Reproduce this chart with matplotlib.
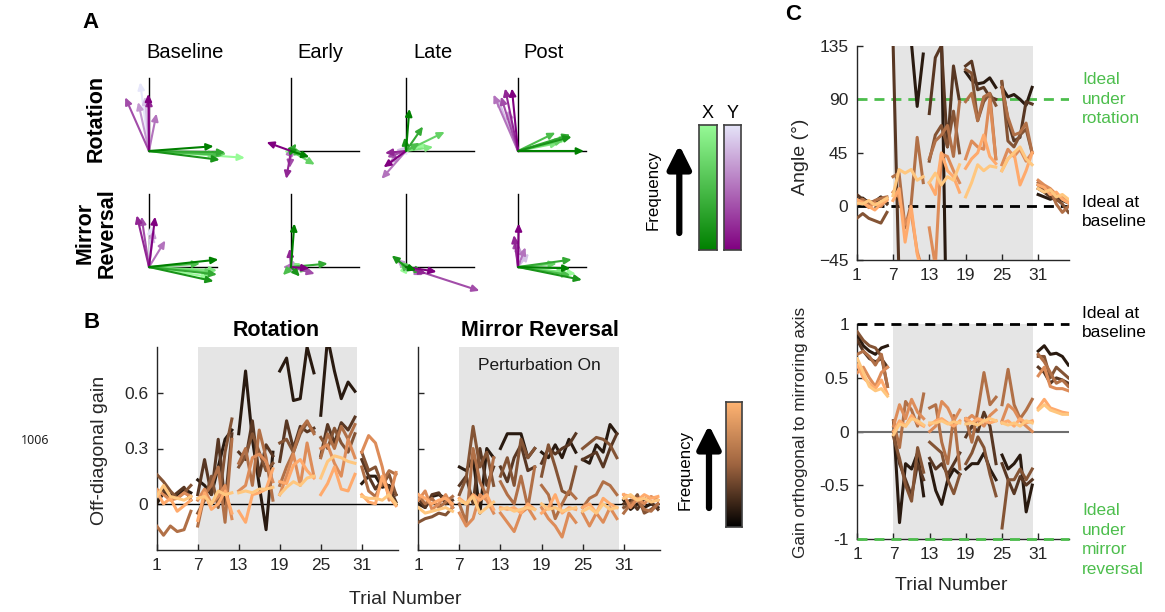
import numpy as np
import matplotlib
matplotlib.use('Agg')
import matplotlib.pyplot as plt
from matplotlib.colors import LinearSegmentedColormap

plt.rcParams['font.family'] = ['Liberation Sans', 'DejaVu Sans']

W, H = 1165, 612
trials = np.arange(1, 37)
xticks = [1, 7, 13, 19, 25, 31]
freq_levels = [0.13, 0.28, 0.42, 0.56, 0.70, 0.85, 1.0]
col_names = ['Baseline', 'Early', 'Late', 'Post']
row_names = ['Rotation', 'Mirror\nReversal']

# ---------------- Panel A: arrow vectors (dark/low freq -> light/high freq) ----------------
A_rot_base_X = [(0.95, 0.07), (1.04, -0.13), (1.12, -0.02), (1.08, -0.06), (1.14, -0.04), (1.0, -0.05), (1.41, -0.10)]
A_rot_base_Y = [(-0.01, 0.84), (0.0, 0.78), (-0.35, 0.79), (0.11, 0.55), (-0.16, 0.72), (-0.06, 0.80), (-0.13, 1.01)]
A_rot_early_X = [(0.27, -0.09), (0.10, 0.02), (0.08, 0.11), (0.18, -0.04), (0.35, -0.20), (0.12, -0.06), (0.05, 0.04)]
A_rot_early_Y = [(-0.36, 0.13), (-0.07, -0.41), (-0.02, -0.25), (0.02, 0.05), (-0.04, 0.06), (-0.06, 0.03), (-0.03, 0.07)]
A_rot_late_X = [(0.05, 0.62), (-0.02, 0.20), (0.25, 0.36), (0.20, 0.12), (0.57, 0.28), (0.40, 0.06), (0.30, 0.10)]
A_rot_late_Y = [(-0.33, -0.24), (-0.31, -0.03), (-0.28, -0.09), (-0.36, -0.41), (-0.25, -0.18), (-0.15, 0.02), (-0.10, 0.03)]
A_rot_post_X = [(0.97, 0.0), (0.79, 0.21), (0.77, 0.24), (0.55, 0.27), (0.67, 0.16), (0.60, 0.12), (0.74, 0.20)]
A_rot_post_Y = [(-0.09, 0.92), (-0.19, 0.92), (-0.25, 0.80), (-0.36, 0.83), (-0.15, 0.60), (-0.30, 0.78), (-0.10, 0.45)]
A_mir_base_X = [(1.02, 0.11), (0.95, -0.21), (1.00, -0.11), (0.75, 0.05), (0.95, -0.08), (1.0, -0.05), (0.90, -0.15)]
A_mir_base_Y = [(0.09, 0.74), (-0.18, 0.76), (-0.11, 0.74), (0.24, 0.39), (0.07, 0.55), (0.05, 0.49), (0.03, 0.60)]
A_mir_early_X = [(0.05, 0.64), (0.13, -0.14), (0.54, 0.05), (-0.12, -0.12), (0.27, -0.05), (0.15, 0.05), (-0.05, -0.05)]
A_mir_early_Y = [(0.27, -0.02), (-0.02, 0.27), (0.35, -0.10), (-0.12, 0.0), (0.05, 0.10), (0.10, -0.05), (-0.05, 0.05)]
A_mir_late_X = [(0.15, -0.05), (-0.21, 0.17), (0.25, -0.07), (0.08, 0.02), (-0.10, 0.08), (0.05, -0.03), (0.02, 0.04)]
A_mir_late_Y = [(0.45, -0.07), (0.30, -0.10), (1.08, -0.35), (0.25, -0.12), (-0.14, 0.12), (-0.08, 0.06), (-0.05, 0.05)]
A_mir_post_X = [(0.77, -0.02), (0.94, -0.19), (0.79, 0.11), (0.77, -0.12), (0.57, 0.05), (0.70, -0.08), (0.85, -0.10)]
A_mir_post_Y = [(0.01, 0.64), (-0.06, 0.47), (-0.04, 0.40), (0.11, 0.29), (0.0, 0.35), (0.16, 0.20), (0.05, 0.25)]

# ---------------- Panel B: off-diagonal gain (7 frequencies x 36 trials) ----------------
B_rot = [
    [0.0, 0.06, 0.05, 0.04, 0.08, 0.06, 0.13, 0.10, 0.05, 0.20, 0.35, 0.40, 0.38, 0.72, 0.35, 0.10, -0.14, 0.28,
     0.72, 0.79, 0.56, 0.57, 0.85, 0.71, 0.48, 0.90, 0.72, 0.57, 0.66, 0.61, 0.11, 0.15, 0.15, 0.09, 0.10, 0.05],
    [0.05, 0.08, 0.03, 0.06, 0.09, 0.02, 0.05, 0.24, 0.05, 0.35, 0.0, 0.38, 0.28, 0.24, 0.45, 0.15, 0.32, 0.26,
     0.23, 0.45, 0.30, 0.42, 0.39, 0.41, 0.26, 0.43, 0.33, 0.44, 0.40, 0.47, 0.24, 0.15, 0.08, 0.13, 0.09, 0.01],
    [0.16, 0.12, 0.07, 0.03, 0.06, 0.10, -0.05, 0.02, 0.15, -0.02, 0.28, 0.46, 0.20, 0.26, 0.38, 0.28, 0.18, 0.22,
     0.33, 0.35, 0.28, 0.38, 0.44, 0.39, 0.36, 0.30, 0.41, 0.33, 0.28, 0.38, 0.28, 0.18, 0.20, 0.10, 0.16, 0.05],
    [-0.12, -0.17, -0.12, -0.15, -0.14, -0.04, -0.12, 0.05, 0.10, 0.20, -0.10, 0.35, 0.22, 0.30, 0.10, 0.40, 0.25, 0.02,
     0.10, 0.20, 0.28, 0.40, 0.45, 0.38, 0.25, 0.38, 0.30, 0.42, 0.35, 0.43, 0.20, 0.07, 0.04, 0.12, 0.18, 0.16],
    [0.08, 0.05, 0.02, 0.03, 0.06, 0.04, 0.02, 0.08, 0.00, 0.04, 0.10, -0.08, 0.07, 0.10, 0.25, 0.27, 0.23, 0.12,
     0.05, 0.15, 0.27, 0.10, 0.33, 0.15, 0.30, 0.32, 0.22, 0.15, 0.35, 0.25, 0.28, 0.37, 0.33, 0.20, 0.02, 0.17],
    [0.07, 0.0, 0.03, -0.04, -0.01, 0.02, -0.09, 0.06, -0.03, 0.0, 0.07, -0.05, -0.04, -0.10, 0.05, 0.06, 0.08, 0.19,
     0.12, 0.11, 0.21, 0.24, 0.18, 0.14, 0.05, 0.11, 0.20, 0.08, 0.07, 0.16, 0.05, 0.01, 0.00, 0.15, 0.04, -0.01],
    [0.04, 0.10, 0.04, 0.03, 0.02, 0.04, 0.03, 0.04, 0.0, 0.07, 0.05, 0.06, 0.06, 0.07, 0.06, 0.08, 0.08, 0.09,
     0.05, 0.09, 0.12, 0.10, 0.14, 0.15, 0.14, 0.23, 0.26, 0.25, 0.23, 0.22, 0.04, 0.03, 0.03, 0.02, 0.05, 0.00],
]
B_mir = [
    [0.0, -0.02, 0.04, 0.05, 0.03, 0.0, 0.20, 0.18, 0.25, -0.05, 0.30, 0.25, 0.30, 0.38, 0.38, 0.38, 0.25, 0.30,
     0.28, 0.25, 0.32, 0.25, 0.35, 0.28, 0.24, 0.22, 0.32, 0.28, 0.43, 0.38, 0.02, -0.03, 0.0, -0.02, 0.0, -0.02],
    [0.03, -0.02, 0.05, 0.06, 0.0, 0.02, 0.10, 0.15, 0.0, 0.30, 0.10, 0.20, 0.20, 0.12, 0.25, 0.32, 0.18, 0.20,
     0.22, 0.30, 0.27, 0.30, 0.32, 0.38, 0.24, 0.26, 0.28, 0.20, 0.30, 0.38, 0.0, 0.02, -0.03, 0.03, 0.01, -0.03],
    [-0.10, -0.08, -0.07, -0.05, -0.06, -0.02, 0.05, 0.14, 0.42, 0.20, 0.28, 0.10, 0.15, 0.25, 0.10, 0.35, 0.25, 0.30,
     0.15, 0.32, 0.20, 0.07, 0.05, 0.20, 0.30, 0.33, 0.36, 0.35, 0.32, 0.25, -0.02, 0.0, 0.05, -0.05, -0.03, 0.0],
    [0.05, 0.0, 0.03, -0.02, 0.01, 0.04, 0.0, -0.10, 0.30, 0.12, 0.04, 0.25, 0.12, 0.05, 0.0, 0.15, -0.02, 0.20,
     0.10, 0.05, -0.08, 0.0, 0.07, 0.03, -0.02, 0.03, 0.05, 0.12, 0.10, 0.05, -0.05, 0.0, 0.02, -0.03, -0.04, 0.0],
    [0.02, 0.07, -0.03, 0.0, 0.05, -0.02, -0.05, -0.12, -0.08, 0.05, 0.02, -0.05, -0.05, -0.10, -0.15, -0.05, -0.02, -0.08,
     -0.02, -0.08, -0.12, -0.18, -0.05, -0.10, -0.05, -0.12, -0.05, -0.10, -0.02, -0.08, 0.05, -0.02, 0.03, 0.0, 0.04, 0.02],
    [0.05, 0.03, 0.0, 0.02, 0.03, 0.0, 0.03, 0.0, 0.05, 0.02, 0.05, -0.03, -0.02, -0.03, -0.02, -0.05, 0.0, -0.03,
     -0.05, -0.02, 0.05, -0.05, -0.02, -0.03, -0.02, 0.0, -0.05, 0.03, 0.0, -0.02, 0.05, 0.04, 0.02, 0.05, 0.03, 0.04],
    [-0.02, -0.05, -0.04, -0.03, -0.02, -0.04, 0.02, 0.0, 0.04, -0.05, -0.02, 0.01, -0.03, -0.02, -0.04, -0.03, -0.02, -0.03,
     0.0, -0.03, -0.02, -0.04, -0.03, -0.02, -0.04, -0.02, -0.05, 0.0, -0.03, -0.02, 0.03, 0.05, 0.02, 0.03, 0.01, 0.02],
]

# ---------------- Panel C: angle (deg) and gain orthogonal to mirroring axis ----------------
C_angle = [
    [5, 7, 3, 4, 8, 3, 200, 180, 175, 140, 84, 128, 200, 180, 150, -150, -160, -170,
     113, 106, 103, 104, 108, 100, 100, 92, 94, 90, 85, 100, 10, 8, 6, 8, 5, 3],
    [10, 6, 4, 3, 7, 2, 140, -60, -70, -80, -60, -70, 78, 125, 135, 50, 118, 88,
     118, 122, 98, 100, 92, 90, 104, 72, 55, 58, 88, 86, 15, 12, 8, 5, 8, 4],
    [-10, -6, -10, -12, -14, -5, -70, -80, -60, -75, -70, -65, 38, 60, 68, 50, 80, 45,
     115, 112, 72, 88, 95, 85, 105, 55, 50, 60, 65, 45, 18, 14, 12, 6, 2, -5],
    [4, 6, 2, 5, 7, 8, 25, 28, -18, 2, 58, 20, 40, 55, 60, 68, 42, 88,
     88, 95, 72, 92, 95, 40, 100, 75, 60, 62, 70, 45, 20, 16, 14, 2, -5, 0],
    [2, 4, -1, 3, 0, 6, 12, 8, -15, -5, -38, -55, -18, -50, 44, 42, 30, 20,
     40, 55, 50, 48, 90, 40, 35, 48, 42, 48, 38, 45, 22, 18, 15, 10, 8, 5],
    [6, 3, 0, -3, 2, 5, 5, 15, -30, 0, -40, -60, 20, 10, 45, 30, 25, 12,
     32, 40, 45, 60, 42, 36, 30, 40, 45, 18, 30, 45, 18, 16, 10, 12, 6, 3],
    [3, 2, 5, 1, 4, 7, 9, 31, 28, 31, 22, 25, 20, 28, 18, 25, 22, 35,
     8, 20, 35, 30, 34, 33, 30, 40, 45, 50, 40, 35, 15, 12, 14, 8, 10, 6],
]
C_gain = [
    [0.90, 0.80, 0.75, 0.72, 0.78, 0.80, 0.10, -0.85, -0.30, -0.35, -0.20, -0.60, -0.30, -0.55, -0.68, -0.45, -0.35, -0.40,
     -0.35, -0.30, -0.30, -0.20, -0.35, -0.45, -0.22, -0.35, -0.30, -0.22, -0.75, -0.50, 0.75, 0.80, 0.72, 0.73, 0.70, 0.62],
    [0.85, 0.75, 0.68, 0.65, 0.68, 0.60, 0.0, -0.30, -0.45, -0.60, -0.30, -0.45, -0.25, -0.35, -0.30, -0.40, -0.30, -0.20,
     -0.05, 0.05, 0.0, 0.18, 0.05, -0.30, -0.30, -0.45, -0.58, -0.42, -0.50, -0.45, 0.60, 0.55, 0.45, 0.50, 0.48, 0.45],
    [0.93, 0.85, 0.80, 0.78, 0.70, 0.42, -0.05, -0.25, -0.50, -0.65, -0.15, -0.38, -0.10, -0.15, -0.20, -0.45, -0.58, -0.40,
     -0.30, -0.20, -0.05, -0.15, -0.40, -0.60, -0.90, -0.45, -0.45, -0.35, -0.45, -0.35, 0.70, 0.70, 0.50, 0.60, 0.55, 0.50],
    [0.72, 0.75, 0.70, 0.62, 0.72, 0.42, 0.10, -0.15, 0.28, 0.20, 0.05, 0.35, 0.22, 0.25, -0.10, -0.30, 0.15, -0.35,
     0.12, -0.10, 0.20, 0.55, 0.25, 0.32, 0.25, 0.58, 0.25, 0.12, 0.20, 0.30, 0.72, 0.65, 0.55, 0.45, 0.48, 0.42],
    [0.55, 0.60, 0.50, 0.42, 0.55, 0.60, 0.05, 0.25, 0.12, 0.30, 0.18, 0.12, 0.0, 0.05, 0.28, 0.22, 0.10, 0.20,
     0.10, 0.15, 0.10, 0.05, 0.15, 0.20, 0.10, 0.25, 0.20, 0.10, 0.05, 0.0, 0.52, 0.60, 0.42, 0.40, 0.40, 0.38],
    [0.62, 0.50, 0.45, 0.40, 0.48, 0.35, 0.0, 0.10, 0.05, 0.15, 0.08, 0.05, 0.06, 0.10, 0.12, 0.08, 0.05, 0.10,
     0.12, 0.08, 0.12, 0.10, 0.08, 0.10, 0.08, 0.10, 0.05, 0.12, 0.08, 0.10, 0.22, 0.30, 0.22, 0.20, 0.18, 0.17],
    [0.68, 0.55, 0.42, 0.38, 0.40, 0.33, -0.03, 0.07, 0.05, 0.12, 0.10, 0.06, 0.08, 0.08, 0.10, 0.07, 0.09, 0.08,
     0.07, 0.08, 0.06, 0.10, 0.12, 0.10, 0.08, 0.06, 0.08, 0.05, 0.10, 0.08, 0.20, 0.25, 0.20, 0.18, 0.16, 0.16],
]

# ---------------- helpers ----------------
fig = plt.figure(figsize=(W / 100, H / 100), dpi=100)
INK = '#262626'
GREEN = '#4DBE4D'
SHADE = '#E5E5E5'


def add_ax(l, t, r, b, **kw):
    return fig.add_axes([l / W, 1 - b / H, (r - l) / W, (b - t) / H], **kw)


def ftext(x, y, s, **kw):
    return fig.text(x / W, 1 - y / H, s, **kw)


def style(ax):
    for sp in ['top', 'right']:
        ax.spines[sp].set_visible(False)
    for sp in ['left', 'bottom']:
        ax.spines[sp].set_color(INK)
        ax.spines[sp].set_linewidth(1)
    ax.tick_params(direction='in', length=4, width=1, colors=INK, labelsize=12.5, pad=6)


cop = plt.get_cmap('copper')
line_cols = [cop(v) for v in freq_levels]


def draw_lines(ax, data):
    for i, series in enumerate(data):
        s = np.array(series, float)
        for b0 in range(0, 36, 6):
            ax.plot(trials[b0:b0 + 6], s[b0:b0 + 6], color=line_cols[i], lw=2.2, zorder=3)


# ---------------- Panel A ----------------
greens = LinearSegmentedColormap.from_list('g', ['#008000', '#98FB98'])
purples = LinearSegmentedColormap.from_list('p', ['#800080', '#E6E6FA'])
A_X = [[A_rot_base_X, A_rot_early_X, A_rot_late_X, A_rot_post_X],
       [A_mir_base_X, A_mir_early_X, A_mir_late_X, A_mir_post_X]]
A_Y = [[A_rot_base_Y, A_rot_early_Y, A_rot_late_Y, A_rot_post_Y],
       [A_mir_base_Y, A_mir_early_Y, A_mir_late_Y, A_mir_post_Y]]
col_ox = [149, 291, 406, 518]
row_oy = [151, 267]
unit = 68.0
for r in range(2):
    for c in range(4):
        ox, oy = col_ox[c], row_oy[r]
        ax = add_ax(ox - 45, oy - 80, ox + 105, oy + 40)
        ax.set_xlim(-45 / unit, 105 / unit)
        ax.set_ylim(-40 / unit, 80 / unit)
        ax.axis('off')
        ax.patch.set_visible(False)
        ax.plot([0, 0], [0, 1.07], color='k', lw=1)
        ax.plot([0, 1.0], [0, 0], color='k', lw=1)
        n = len(A_X[r][c])
        for i in reversed(range(n)):
            for vecs, cmap in ((A_Y[r][c], purples), (A_X[r][c], greens)):
                dx, dy = vecs[i]
                ax.annotate('', xy=(dx, dy), xytext=(0, 0),
                            arrowprops=dict(arrowstyle='-|>,head_length=0.6,head_width=0.28',
                                            color=cmap(i / (n - 1)), lw=1.5, mutation_scale=7,
                                            shrinkA=0, shrinkB=0))

for name, x in zip(col_names, [185, 320.7, 432.7, 544]):
    ftext(x, 53, name, ha='center', va='center', fontsize=14.5)
ftext(96, 118, row_names[0], rotation=90, ha='center', va='center', fontsize=15.5, fontweight='bold')
ftext(96, 233, row_names[1], rotation=90, ha='center', va='center', fontsize=15.5, fontweight='bold',
      linespacing=1.1)
ftext(90, 23, 'A', ha='center', va='center', fontsize=16, fontweight='bold')

# A colorbars
grad = np.linspace(0, 1, 256)[:, None]
for (l, r_), cmap, lab in (((699.3, 716.7), greens, 'X'), ((724.3, 741), purples, 'Y')):
    cax = add_ax(l, 125, r_, 250)
    cax.imshow(grad[::-1], aspect='auto', cmap=cmap.reversed(), origin='lower')
    cax.set_xticks([]); cax.set_yticks([])
    for sp in cax.spines.values():
        sp.set_color('#404040'); sp.set_linewidth(1.2)
    ftext((l + r_) / 2, 113, lab, ha='center', va='center', fontsize=13)

# overlay for big arrows
ov = fig.add_axes([0, 0, 1, 1], zorder=10)
ov.set_xlim(0, W); ov.set_ylim(H, 0); ov.axis('off'); ov.patch.set_visible(False)
for x, y0, y1 in ((679.3, 233, 145), (709, 508, 425)):
    ov.annotate('', xy=(x, y1), xytext=(x, y0),
                arrowprops=dict(arrowstyle='-|>,head_length=0.7,head_width=0.35', color='k', lw=4.5,
                                mutation_scale=20, shrinkA=0, shrinkB=0))
ftext(653, 190, 'Frequency', rotation=90, ha='center', va='center', fontsize=12.2)
ftext(685, 470, 'Frequency', rotation=90, ha='center', va='center', fontsize=12.2)

# ---------------- Panel B ----------------
axr = add_ax(156.7, 347, 398, 550)
axm = add_ax(418.3, 347, 660, 550)
for ax, data in ((axr, B_rot), (axm, B_mir)):
    style(ax)
    ax.axvspan(7, 30.3, color=SHADE, lw=0, zorder=0)
    ax.axhline(0, color='k', lw=1, zorder=2)
    draw_lines(ax, data)
    ax.set_xlim(1, 36.3)
    ax.set_ylim(-0.25, 0.85)
    ax.set_xticks(xticks)
    ax.set_yticks([0, 0.3, 0.6])
    ax.set_yticklabels(['0', '0.3', '0.6'])
axm.tick_params(labelleft=False)
axm.text(0.5 * (7 + 30.3), 0.75, 'Perturbation On', ha='center', va='center', fontsize=12.5, color='#1a1a1a')
ftext(276, 330.7, 'Rotation', ha='center', va='center', fontsize=15.5, fontweight='bold')
ftext(540, 330.7, 'Mirror Reversal', ha='center', va='center', fontsize=15.5, fontweight='bold')
ftext(100, 450, 'Off-diagonal gain', rotation=90, ha='center', va='center', fontsize=14, color=INK)
ftext(405, 600, 'Trial Number', ha='center', va='center', fontsize=14, color=INK)
ftext(91.7, 323, 'B', ha='center', va='center', fontsize=16, fontweight='bold')

# B colorbar
bcax = add_ax(726, 402, 742, 527)
bcax.imshow(grad, aspect='auto', cmap=LinearSegmentedColormap.from_list('c', [cop(0.0), cop(0.5), cop(0.9)]),
            origin='lower')
bcax.set_xticks([]); bcax.set_yticks([])
for sp in bcax.spines.values():
    sp.set_color('#404040'); sp.set_linewidth(1.2)

ftext(35, 440, '1006', ha='center', va='center', fontsize=9, family=['Noto Sans', 'DejaVu Sans'], color='#222222')

# ---------------- Panel C ----------------
axa = add_ax(856.7, 45.7, 1069, 260)
style(axa)
axa.axvspan(7, 30.1, color=SHADE, lw=0, zorder=0)
axa.axhline(90, color=GREEN, lw=2, ls=(0, (3.6, 2.5)), zorder=2)
axa.axhline(0, color='k', lw=2, ls=(0, (3.6, 2.5)), zorder=2)
draw_lines(axa, C_angle)
axa.set_xlim(1, 36.1)
axa.set_ylim(-45, 135)
axa.set_xticks(xticks)
axa.set_yticks([-45, 0, 45, 90, 135])
ftext(801, 157, 'Angle (°)', rotation=90, ha='center', va='center', fontsize=14, color=INK)
ftext(1082, 99, 'Ideal\nunder\nrotation', ha='left', va='center', fontsize=12.5, color=GREEN, linespacing=1.37)
ftext(1082, 212, 'Ideal at\nbaseline', ha='left', va='center', fontsize=12.5, color='k', linespacing=1.37)
ftext(793, 15, 'C', ha='center', va='center', fontsize=16, fontweight='bold')

axg = add_ax(857.3, 324.3, 1069, 538.7)
style(axg)
axg.axvspan(7, 30.1, color=SHADE, lw=0, zorder=0)
axg.axhline(0, color='#6E6E6E', lw=1.5, zorder=2)
axg.axhline(1, color='k', lw=2, ls=(0, (3.6, 2.5)), zorder=4, clip_on=False)
axg.axhline(-1, color=GREEN, lw=2, ls=(0, (3.6, 2.5)), zorder=4, clip_on=False)
draw_lines(axg, C_gain)
axg.set_xlim(1, 36.1)
axg.set_ylim(-1, 1)
axg.set_xticks(xticks)
axg.set_yticks([-1, -0.5, 0, 0.5, 1])
axg.set_yticklabels(['-1', '-0.5', '0', '0.5', '1'])
ftext(800, 432, 'Gain orthogonal to mirroring axis', rotation=90, ha='center', va='center', fontsize=12.4,
      color=INK)
ftext(951.7, 586, 'Trial Number', ha='center', va='center', fontsize=14, color=INK)
ftext(1082, 323, 'Ideal at\nbaseline', ha='left', va='center', fontsize=12.5, color='k', linespacing=1.37)
ftext(1082, 540, 'Ideal\nunder\nmirror\nreversal', ha='left', va='center', fontsize=12.5, color=GREEN,
      linespacing=1.37)

fig.savefig('out.png', dpi=100)
